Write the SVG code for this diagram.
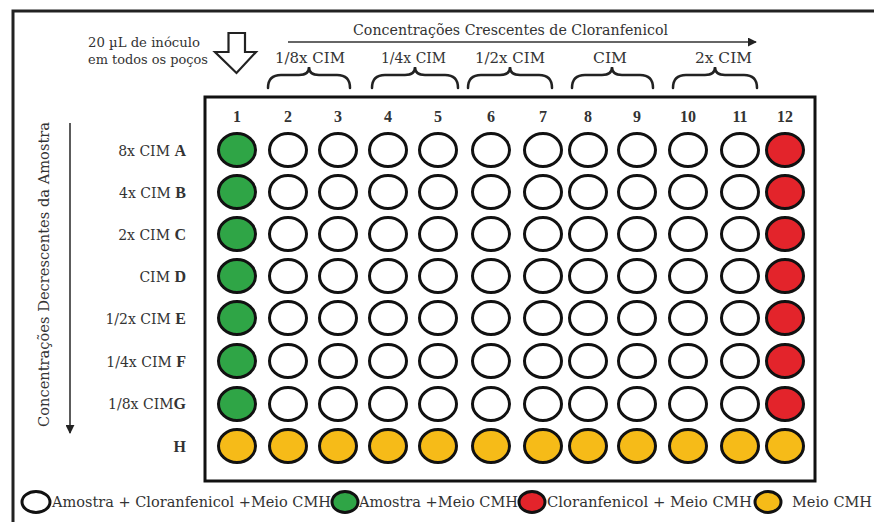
<svg xmlns="http://www.w3.org/2000/svg" width="874" height="522" viewBox="0 0 874 522">
<style>
text{font-family:"DejaVu Serif","Liberation Serif",serif;fill:#333}
.lbl{font-size:14px}
.num{font-family:"Liberation Serif","DejaVu Serif",serif;font-size:16px;font-weight:bold;text-anchor:middle}
.row{font-size:14px;text-anchor:end}
.b{font-family:"Liberation Serif","DejaVu Serif",serif;font-size:16px;font-weight:bold}
.w{stroke:#111;stroke-width:3}
.wh{fill:#fff}
.gr{fill:#2fa546}
.rd{fill:#e3242b}
.yl{fill:#f6bb18}
.br{fill:none;stroke:#222;stroke-width:2.5;stroke-linecap:round}
.ln{stroke:#333;stroke-width:1.6;fill:none}
</style>
<defs>
<marker id="ah2" viewBox="0 0 10 10" refX="9" refY="5" markerWidth="9" markerHeight="9" orient="auto" markerUnits="userSpaceOnUse">
<path d="M0,0 L10,5 L0,10 z" fill="#222"/>
</marker>
</defs>
<rect width="874" height="522" fill="#fff"/>
<path d="M874,11 H13 V522" fill="none" stroke="#222" stroke-width="3"/>

<g id="connectors">
<line class="ln" x1="288" y1="42" x2="756" y2="42" marker-end="url(#ah2)"/>
<line class="ln" x1="70" y1="123" x2="70" y2="433" marker-end="url(#ah2)"/>
<path id="inoculo-arrow" d="M228.5,33 H245 V52 H256 L236.5,73 L215,52 H228.5 Z" fill="#fff" stroke="#222" stroke-width="2.2" stroke-linejoin="miter"/>
</g>

<g id="title-top"><text class="lbl" x="353" y="35" textLength="315" lengthAdjust="spacingAndGlyphs">Concentrações Crescentes de Cloranfenicol</text></g>
<g id="title-left"><text class="lbl" transform="translate(49,427) rotate(-90)" x="0" y="0" textLength="305" lengthAdjust="spacingAndGlyphs">Concentrações Decrescentes da Amostra</text></g>
<g id="inoculo-label">
<text style="font-size:12px" x="88" y="47" textLength="112" lengthAdjust="spacingAndGlyphs">20 µL de inóculo</text>
<text style="font-size:12px" x="88" y="64" textLength="120" lengthAdjust="spacingAndGlyphs">em todos os poços</text>
</g>

<g id="braces">
<g id="brace-1-8"><text class="lbl" x="275" y="63" textLength="70" lengthAdjust="spacingAndGlyphs">1/8x CIM</text>
<path class="br" d="M268,88 Q268,75 281,75 L299,75 Q309,75 309,67 Q309,75 319,75 L337,75 Q350,75 350,88"/></g>
<g id="brace-1-4"><text class="lbl" x="381" y="63" textLength="65" lengthAdjust="spacingAndGlyphs">1/4x CIM</text>
<path class="br" d="M372,88 Q372,75 385,75 L405,75 Q415,75 415,67 Q415,75 425,75 L445,75 Q458,75 458,88"/></g>
<g id="brace-1-2"><text class="lbl" x="475" y="63" textLength="70" lengthAdjust="spacingAndGlyphs">1/2x CIM</text>
<path class="br" d="M468,88 Q468,75 481,75 L500,75 Q510,75 510,67 Q510,75 520,75 L539,75 Q552,75 552,88"/></g>
<g id="brace-cim"><text class="lbl" x="593" y="63" textLength="34" lengthAdjust="spacingAndGlyphs">CIM</text>
<path class="br" d="M572,88 Q572,75 585,75 L602,75 Q612,75 612,67 Q612,75 622,75 L640,75 Q653,75 653,88"/></g>
<g id="brace-2x"><text class="lbl" x="695" y="63" textLength="57" lengthAdjust="spacingAndGlyphs">2x CIM</text>
<path class="br" d="M673,88 Q673,75 686,75 L705,75 Q715,75 715,67 Q715,75 725,75 L744,75 Q757,75 757,88"/></g>
</g>

<g id="plate">
<rect x="205" y="97" width="610" height="384" fill="#fff" stroke="#111" stroke-width="3"/>
<g id="col-numbers">
<text class="num" x="237" y="122">1</text><text class="num" x="288" y="122">2</text><text class="num" x="338" y="122">3</text><text class="num" x="388" y="122">4</text><text class="num" x="438" y="122">5</text><text class="num" x="491" y="122">6</text><text class="num" x="543" y="122">7</text><text class="num" x="588" y="122">8</text><text class="num" x="637" y="122">9</text><text class="num" x="688" y="122">10</text><text class="num" x="740" y="122">11</text><text class="num" x="785" y="122">12</text>
</g>
<g id="row-labels">
<text class="row" x="186" y="156">8x CIM <tspan class="b">A</tspan></text>
<text class="row" x="186" y="198">4x CIM <tspan class="b">B</tspan></text>
<text class="row" x="186" y="240">2x CIM <tspan class="b">C</tspan></text>
<text class="row" x="186" y="282">CIM <tspan class="b">D</tspan></text>
<text class="row" x="186" y="324">1/2x CIM <tspan class="b">E</tspan></text>
<text class="row" x="186" y="367">1/4x CIM <tspan class="b">F</tspan></text>
<text class="row" x="186" y="409">1/8x CIM<tspan class="b">G</tspan></text>
<text class="row" x="186" y="452"><tspan class="b">H</tspan></text>
</g>
<g id="wells">
<g id="row-A"><ellipse class="w gr" cx="237" cy="150" rx="18.5" ry="16.5"/><ellipse class="w wh" cx="288" cy="150" rx="18.5" ry="16.5"/><ellipse class="w wh" cx="338" cy="150" rx="18.5" ry="16.5"/><ellipse class="w wh" cx="388" cy="150" rx="18.5" ry="16.5"/><ellipse class="w wh" cx="438" cy="150" rx="18.5" ry="16.5"/><ellipse class="w wh" cx="491" cy="150" rx="18.5" ry="16.5"/><ellipse class="w wh" cx="543" cy="150" rx="18.5" ry="16.5"/><ellipse class="w wh" cx="588" cy="150" rx="18.5" ry="16.5"/><ellipse class="w wh" cx="637" cy="150" rx="18.5" ry="16.5"/><ellipse class="w wh" cx="688" cy="150" rx="18.5" ry="16.5"/><ellipse class="w wh" cx="740" cy="150" rx="18.5" ry="16.5"/><ellipse class="w rd" cx="785" cy="150" rx="18.5" ry="16.5"/></g>
<g id="row-B"><ellipse class="w gr" cx="237" cy="192" rx="18.5" ry="16.5"/><ellipse class="w wh" cx="288" cy="192" rx="18.5" ry="16.5"/><ellipse class="w wh" cx="338" cy="192" rx="18.5" ry="16.5"/><ellipse class="w wh" cx="388" cy="192" rx="18.5" ry="16.5"/><ellipse class="w wh" cx="438" cy="192" rx="18.5" ry="16.5"/><ellipse class="w wh" cx="491" cy="192" rx="18.5" ry="16.5"/><ellipse class="w wh" cx="543" cy="192" rx="18.5" ry="16.5"/><ellipse class="w wh" cx="588" cy="192" rx="18.5" ry="16.5"/><ellipse class="w wh" cx="637" cy="192" rx="18.5" ry="16.5"/><ellipse class="w wh" cx="688" cy="192" rx="18.5" ry="16.5"/><ellipse class="w wh" cx="740" cy="192" rx="18.5" ry="16.5"/><ellipse class="w rd" cx="785" cy="192" rx="18.5" ry="16.5"/></g>
<g id="row-C"><ellipse class="w gr" cx="237" cy="234" rx="18.5" ry="16.5"/><ellipse class="w wh" cx="288" cy="234" rx="18.5" ry="16.5"/><ellipse class="w wh" cx="338" cy="234" rx="18.5" ry="16.5"/><ellipse class="w wh" cx="388" cy="234" rx="18.5" ry="16.5"/><ellipse class="w wh" cx="438" cy="234" rx="18.5" ry="16.5"/><ellipse class="w wh" cx="491" cy="234" rx="18.5" ry="16.5"/><ellipse class="w wh" cx="543" cy="234" rx="18.5" ry="16.5"/><ellipse class="w wh" cx="588" cy="234" rx="18.5" ry="16.5"/><ellipse class="w wh" cx="637" cy="234" rx="18.5" ry="16.5"/><ellipse class="w wh" cx="688" cy="234" rx="18.5" ry="16.5"/><ellipse class="w wh" cx="740" cy="234" rx="18.5" ry="16.5"/><ellipse class="w rd" cx="785" cy="234" rx="18.5" ry="16.5"/></g>
<g id="row-D"><ellipse class="w gr" cx="237" cy="276" rx="18.5" ry="16.5"/><ellipse class="w wh" cx="288" cy="276" rx="18.5" ry="16.5"/><ellipse class="w wh" cx="338" cy="276" rx="18.5" ry="16.5"/><ellipse class="w wh" cx="388" cy="276" rx="18.5" ry="16.5"/><ellipse class="w wh" cx="438" cy="276" rx="18.5" ry="16.5"/><ellipse class="w wh" cx="491" cy="276" rx="18.5" ry="16.5"/><ellipse class="w wh" cx="543" cy="276" rx="18.5" ry="16.5"/><ellipse class="w wh" cx="588" cy="276" rx="18.5" ry="16.5"/><ellipse class="w wh" cx="637" cy="276" rx="18.5" ry="16.5"/><ellipse class="w wh" cx="688" cy="276" rx="18.5" ry="16.5"/><ellipse class="w wh" cx="740" cy="276" rx="18.5" ry="16.5"/><ellipse class="w rd" cx="785" cy="276" rx="18.5" ry="16.5"/></g>
<g id="row-E"><ellipse class="w gr" cx="237" cy="318" rx="18.5" ry="16.5"/><ellipse class="w wh" cx="288" cy="318" rx="18.5" ry="16.5"/><ellipse class="w wh" cx="338" cy="318" rx="18.5" ry="16.5"/><ellipse class="w wh" cx="388" cy="318" rx="18.5" ry="16.5"/><ellipse class="w wh" cx="438" cy="318" rx="18.5" ry="16.5"/><ellipse class="w wh" cx="491" cy="318" rx="18.5" ry="16.5"/><ellipse class="w wh" cx="543" cy="318" rx="18.5" ry="16.5"/><ellipse class="w wh" cx="588" cy="318" rx="18.5" ry="16.5"/><ellipse class="w wh" cx="637" cy="318" rx="18.5" ry="16.5"/><ellipse class="w wh" cx="688" cy="318" rx="18.5" ry="16.5"/><ellipse class="w wh" cx="740" cy="318" rx="18.5" ry="16.5"/><ellipse class="w rd" cx="785" cy="318" rx="18.5" ry="16.5"/></g>
<g id="row-F"><ellipse class="w gr" cx="237" cy="361" rx="18.5" ry="16.5"/><ellipse class="w wh" cx="288" cy="361" rx="18.5" ry="16.5"/><ellipse class="w wh" cx="338" cy="361" rx="18.5" ry="16.5"/><ellipse class="w wh" cx="388" cy="361" rx="18.5" ry="16.5"/><ellipse class="w wh" cx="438" cy="361" rx="18.5" ry="16.5"/><ellipse class="w wh" cx="491" cy="361" rx="18.5" ry="16.5"/><ellipse class="w wh" cx="543" cy="361" rx="18.5" ry="16.5"/><ellipse class="w wh" cx="588" cy="361" rx="18.5" ry="16.5"/><ellipse class="w wh" cx="637" cy="361" rx="18.5" ry="16.5"/><ellipse class="w wh" cx="688" cy="361" rx="18.5" ry="16.5"/><ellipse class="w wh" cx="740" cy="361" rx="18.5" ry="16.5"/><ellipse class="w rd" cx="785" cy="361" rx="18.5" ry="16.5"/></g>
<g id="row-G"><ellipse class="w gr" cx="237" cy="404" rx="18.5" ry="16.5"/><ellipse class="w wh" cx="288" cy="404" rx="18.5" ry="16.5"/><ellipse class="w wh" cx="338" cy="404" rx="18.5" ry="16.5"/><ellipse class="w wh" cx="388" cy="404" rx="18.5" ry="16.5"/><ellipse class="w wh" cx="438" cy="404" rx="18.5" ry="16.5"/><ellipse class="w wh" cx="491" cy="404" rx="18.5" ry="16.5"/><ellipse class="w wh" cx="543" cy="404" rx="18.5" ry="16.5"/><ellipse class="w wh" cx="588" cy="404" rx="18.5" ry="16.5"/><ellipse class="w wh" cx="637" cy="404" rx="18.5" ry="16.5"/><ellipse class="w wh" cx="688" cy="404" rx="18.5" ry="16.5"/><ellipse class="w wh" cx="740" cy="404" rx="18.5" ry="16.5"/><ellipse class="w rd" cx="785" cy="404" rx="18.5" ry="16.5"/></g>
<g id="row-H"><ellipse class="w yl" cx="237" cy="446" rx="18.5" ry="16.5"/><ellipse class="w yl" cx="288" cy="446" rx="18.5" ry="16.5"/><ellipse class="w yl" cx="338" cy="446" rx="18.5" ry="16.5"/><ellipse class="w yl" cx="388" cy="446" rx="18.5" ry="16.5"/><ellipse class="w yl" cx="438" cy="446" rx="18.5" ry="16.5"/><ellipse class="w yl" cx="491" cy="446" rx="18.5" ry="16.5"/><ellipse class="w yl" cx="543" cy="446" rx="18.5" ry="16.5"/><ellipse class="w yl" cx="588" cy="446" rx="18.5" ry="16.5"/><ellipse class="w yl" cx="637" cy="446" rx="18.5" ry="16.5"/><ellipse class="w yl" cx="688" cy="446" rx="18.5" ry="16.5"/><ellipse class="w yl" cx="740" cy="446" rx="18.5" ry="16.5"/><ellipse class="w yl" cx="785" cy="446" rx="18.5" ry="16.5"/></g>
</g>
</g>

<g id="legend">
<g id="legend-white"><ellipse class="w wh" cx="36" cy="502" rx="14" ry="10.5"/><text class="lbl" x="52" y="507" textLength="279" lengthAdjust="spacingAndGlyphs">Amostra + Cloranfenicol  +Meio CMH</text></g>
<g id="legend-green"><ellipse class="w gr" cx="345" cy="502" rx="13" ry="10.5"/><text class="lbl" x="359" y="507" textLength="159" lengthAdjust="spacingAndGlyphs">Amostra +Meio CMH</text></g>
<g id="legend-red"><ellipse class="w rd" cx="532" cy="502" rx="13" ry="10.5"/><text class="lbl" x="547" y="507" textLength="205" lengthAdjust="spacingAndGlyphs">Cloranfenicol + Meio CMH</text></g>
<g id="legend-yellow"><ellipse class="w yl" cx="768" cy="502" rx="13" ry="10.5"/><text class="lbl" x="792" y="507" textLength="80" lengthAdjust="spacingAndGlyphs">Meio CMH</text></g>
</g>
</svg>
